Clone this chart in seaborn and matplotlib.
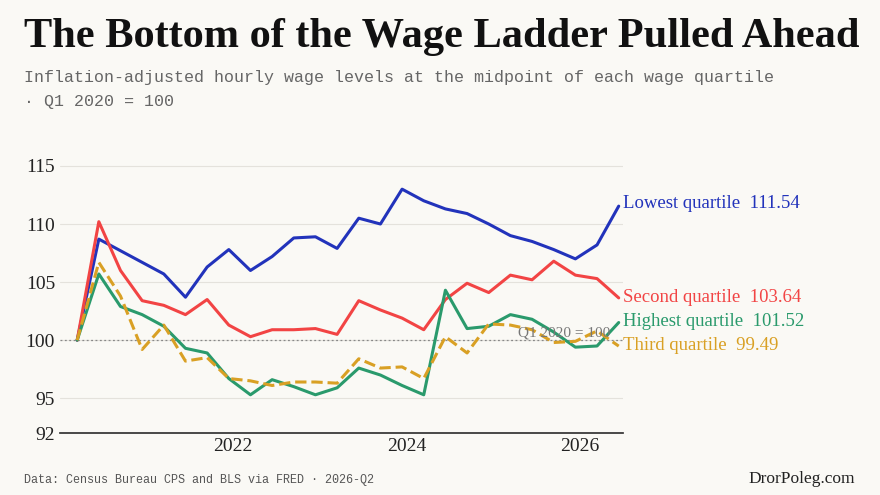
import numpy as np
import pandas as pd
import matplotlib
matplotlib.use("Agg")
import matplotlib.pyplot as plt
import seaborn as sns

quarters = pd.period_range("2020Q1", "2026Q2", freq="Q")
lowest = [100, 108.7, 107.7, 106.7, 105.7, 103.7, 106.3, 107.8, 106.0, 107.2, 108.8, 108.9, 107.9,
          110.5, 110.0, 113.0, 112.0, 111.3, 110.9, 110.0, 109.0, 108.5, 107.8, 107.0, 108.2, 111.54]
second = [100, 110.2, 106.0, 103.4, 103.0, 102.2, 103.5, 101.3, 100.3, 100.9, 100.9, 101.0, 100.5,
          103.4, 102.6, 101.9, 100.9, 103.5, 104.9, 104.1, 105.6, 105.2, 106.8, 105.6, 105.3, 103.64]
highest = [100, 105.7, 102.9, 102.2, 101.2, 99.3, 98.9, 96.7, 95.3, 96.6, 96.0, 95.3, 95.9,
           97.6, 97.0, 96.1, 95.3, 104.3, 101.0, 101.2, 102.2, 101.8, 100.7, 99.4, 99.5, 101.52]
third = [100, 106.7, 103.8, 99.2, 101.3, 98.2, 98.5, 96.7, 96.5, 96.1, 96.4, 96.4, 96.3,
         98.4, 97.6, 97.7, 96.7, 100.3, 98.9, 101.4, 101.3, 100.9, 99.8, 99.9, 100.8, 99.49]

names = ["Lowest quartile", "Second quartile", "Highest quartile", "Third quartile"]
colors = ["#2233bb", "#f24444", "#2a9a6c", "#d9a024"]
label_y = [111.8, 103.7, 101.6, 99.5]

x = np.array([q.year + (q.quarter - 1) / 4 + 0.2 for q in quarters])
df = pd.DataFrame({"x": x, "Lowest quartile": lowest, "Second quartile": second,
                   "Highest quartile": highest, "Third quartile": third})
long = df.melt(id_vars="x", var_name="series", value_name="value")

bg = "#faf9f5"
sns.set_theme(style="white")
plt.rcParams["font.family"] = ["Liberation Serif", "DejaVu Serif"]

fig = plt.figure(figsize=(8.8, 4.95), dpi=100, facecolor=bg)
ax = fig.add_axes([0.068, 0.125, 0.64, 0.575], facecolor=bg)

ax.axhline(100, color="#888888", lw=0.9, ls=(0, (1.5, 2)), zorder=1)
for s, c in zip(names, colors):
    d = long[long.series == s]
    sns.lineplot(data=d, x="x", y="value", ax=ax, color=c, lw=2.2,
                 ls="--" if s == "Third quartile" else "-", zorder=3)
for s, c, ly in zip(names, colors, label_y):
    v = df[s].iloc[-1]
    ax.annotate(f"{s}  {v:.2f}", xy=(x[-1], v), xytext=(x[-1] + 0.05, ly),
                color=c, fontsize=13.5, va="center", ha="left", annotation_clip=False)
ax.text(2026.35, 100.6, "Q1 2020 = 100", ha="right", va="center", fontsize=11, color="#777777")

ax.set_xlim(2020.0, 2026.5)
ax.set_ylim(92, 116.5)
ax.set_yticks([92, 95, 100, 105, 110, 115])
ax.set_xticks([2022, 2024, 2026])
ax.set_xticklabels(["2022", "2024", "2026"])
ax.grid(axis="y", color="#e4e2dc", lw=0.8)
ax.set_xlabel("")
ax.set_ylabel("")
ax.tick_params(labelsize=14, colors="#222222", length=0)
for sp in ["top", "right", "left"]:
    ax.spines[sp].set_visible(False)
ax.spines["bottom"].set_color("#333333")

fig.text(0.027, 0.905, "The Bottom of the Wage Ladder Pulled Ahead", fontsize=30.5,
         color="#111111", weight="bold")
fig.text(0.027, 0.835, "Inflation-adjusted hourly wage levels at the midpoint of each wage quartile",
         fontsize=12, color="#666666", family=["Liberation Mono", "DejaVu Sans Mono"])
fig.text(0.027, 0.785, "· Q1 2020 = 100", fontsize=12, color="#666666",
         family=["Liberation Mono", "DejaVu Sans Mono"])
fig.text(0.027, 0.025, "Data: Census Bureau CPS and BLS via FRED · 2026-Q2", fontsize=8.5,
         color="#555555", family=["Liberation Mono", "DejaVu Sans Mono"])
fig.text(0.972, 0.025, "DrorPoleg.com", fontsize=12.5, color="#222222", ha="right")

fig.savefig("out.png", dpi=100, facecolor=bg)
